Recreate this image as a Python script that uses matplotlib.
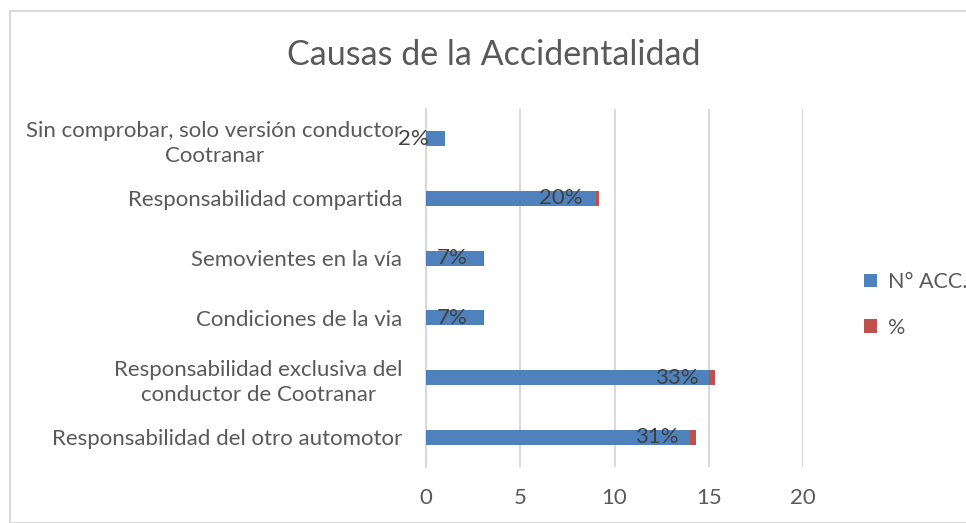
import numpy as np
import matplotlib.pyplot as plt
from matplotlib.patches import Rectangle

# Data (bottom to top, as in the chart)
categorias = ['Responsabilidad del otro automotor',
              'Responsabilidad exclusiva del\nconductor de Cootranar',
              'Condiciones de la via',
              'Semovientes en la vía',
              'Responsabilidad compartida',
              'Sin comprobar, solo versión conductor\nCootranar']
n_acc = [14, 15, 3, 3, 9, 1]
pct = [0.31, 0.33, 0.07, 0.07, 0.20, 0.02]
pct_labels = ['31%', '33%', '7%', '7%', '20%', '2%']

azul = '#4F81BD'
rojo = '#C0504D'
gris = '#595959'

plt.rcParams['font.family'] = ['Lato', 'DejaVu Sans']

W, H = 966, 523
fig = plt.figure(figsize=(W / 100, H / 100), dpi=100)
ax = fig.add_axes([426 / W, 1 - 467 / H, (803 - 426) / W, (467 - 109) / H])

y = np.arange(len(categorias))
ax.barh(y, n_acc, height=0.25, color=azul, label='N° ACC.', zorder=3)
ax.barh(y, pct, left=n_acc, height=0.25, color=rojo, label='%', zorder=3)

for yi, v, p, lab in zip(y, n_acc, pct, pct_labels):
    ax.annotate(lab, xy=(v + p, yi), xytext=(-12, 0), textcoords='offset points',
                ha='right', va='center', fontsize=16, color='#404040', zorder=4)

ax.set_xlim(0, 20)
ax.set_ylim(-0.5, len(categorias) - 0.5)
ax.set_xticks([0, 5, 10, 15, 20])
ax.set_yticks(y)
ax.set_yticklabels(categorias, multialignment='center', linespacing=1.35)
ax.tick_params(axis='both', length=0, labelsize=16, colors=gris)
ax.tick_params(axis='x', pad=15)
ax.tick_params(axis='y', pad=17)
ax.grid(axis='x', color='#D9D9D9', linewidth=1.5, zorder=0)
for s in ['top', 'right', 'bottom']:
    ax.spines[s].set_visible(False)
ax.spines['left'].set_color('#D9D9D9')
ax.spines['left'].set_linewidth(1.5)

fig.text(494 / W, 1 - 55 / H, 'Causas de la Accidentalidad', ha='center', va='center',
         fontsize=24.5, color=gris)

leg = fig.legend(loc='center left', bbox_to_anchor=(845 / W, 1 - 305 / H), frameon=False,
                 fontsize=15.5, labelcolor=gris, handlelength=0.6, handleheight=0.6,
                 labelspacing=1.2, handletextpad=0.5)

# chart border
fig.patches.append(Rectangle((10 / W, 0), 1.2, 1 - 11 / H, transform=fig.transFigure,
                             fill=False, edgecolor='#D9D9D9', linewidth=1.5))

plt.savefig('out.png', dpi=100)
